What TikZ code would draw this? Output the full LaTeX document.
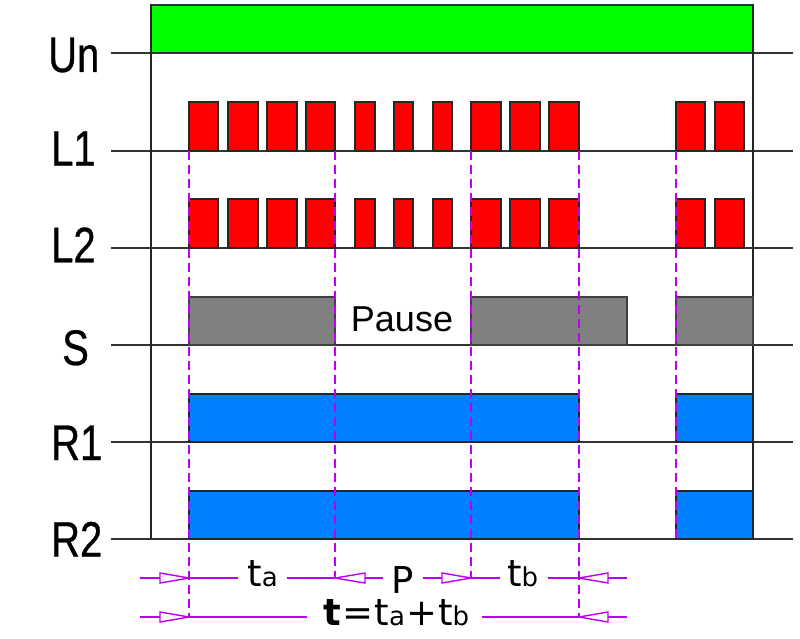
\documentclass[tikz,border=0pt]{standalone}
\usepackage{fontspec}
\setmainfont{Liberation Sans}
\newfontfamily\condfont[FakeStretch=0.8,FakeBold=0.6]{Liberation Sans}
\newfontfamily\dimfont{DejaVu Sans}
\usetikzlibrary{arrows.meta}
\definecolor{ungreen}{RGB}{0,255,0}
\definecolor{lred}{RGB}{255,0,0}
\definecolor{sgray}{RGB}{128,128,128}
\definecolor{rblue}{RGB}{0,128,255}
\definecolor{dimc}{RGB}{190,0,240}
\begin{document}
\begin{tikzpicture}[x=1pt,y=-1pt,
  axisline/.style={draw=black!80,line width=1.6pt},
  frameline/.style={draw=black!85,line width=1.4pt},
  pulsebox/.style={draw=black!85,line width=1.4pt,fill=lred},
  grnbox/.style={draw=black!80,line width=1.4pt,fill=ungreen},
  graybox/.style={draw=black!75,line width=1.4pt,fill=sgray},
  bluebox/.style={draw=black!85,line width=1.4pt,fill=rblue},
  dashline/.style={draw=dimc,line width=1.5pt,dash pattern=on 9pt off 5pt},
  dimline/.style={draw=dimc,line width=1.4pt},
  dimtri/.style={draw=dimc,line width=1.4pt,fill=white},
  rowlabel/.style={inner sep=0pt,anchor=base west,font=\condfont\fontsize{50}{50}\selectfont},
  dimtext/.style={inner sep=0pt,anchor=base,font=\dimfont\fontsize{37}{37}\selectfont},
]
\useasboundingbox (0,0) rectangle (800,639);
\fill[white] (0,0) rectangle (800,639);

% row base lines
\foreach \y in {53,151,248,345,442,539}
  \draw[axisline] (111,\y) -- (793,\y);

% Un
\filldraw[grnbox] (151,5) rectangle (753,53);
\draw[frameline] (151,5) -- (151,539);
\draw[frameline] (753,5) -- (753,539);

% L1, L2 pulses
\foreach \a/\b in {189/218,228/258,267/297,306/335,355/375,394/413,433/452,471/501,510/540,549/579,676/705,715/744}{
  \filldraw[pulsebox] (\a,102) rectangle (\b,151);
  \filldraw[pulsebox] (\a,199) rectangle (\b,248);
}

% S
\filldraw[graybox] (189,297) rectangle (335,345);
\filldraw[graybox] (471,297) rectangle (627,345);
\filldraw[graybox] (676,297) rectangle (753,345);
\node[inner sep=0pt,anchor=base,font=\fontsize{36}{36}\selectfont] (pause) at (402,331.7) {Pause};

% R1, R2
\filldraw[bluebox] (189,394) rectangle (579,442);
\filldraw[bluebox] (676,394) rectangle (753,442);
\filldraw[bluebox] (189,491) rectangle (579,539);
\filldraw[bluebox] (676,491) rectangle (753,539);

% labels
\node[rowlabel] (un) at (48,72) {Un};
\node[rowlabel] (l1) at (51,165.7) {L1};
\node[rowlabel] (l2) at (51,262.3) {L2};
\node[rowlabel] (s) at (62,365) {S};
\node[rowlabel] (r1) at (51,460) {R1};
\node[rowlabel] (r2) at (51,556.7) {R2};

% dashed markers
\draw[dashline] (189,151) -- (189,617);
\draw[dashline] (335,151) -- (335,578);
\draw[dashline] (471,151) -- (471,578);
\draw[dashline] (579,151) -- (579,617);
\draw[dashline] (676,151) -- (676,539);

% dimension row 1
\draw[dimline] (140,578) -- (238,578);
\draw[dimline] (286.7,578) -- (383,578);
\draw[dimline] (423,578) -- (500,578);
\draw[dimline] (548,578) -- (627,578);
\filldraw[dimtri] (160,573) -- (189,578) -- (160,583) -- cycle;
\filldraw[dimtri] (365,573) -- (335,578) -- (365,583) -- cycle;
\filldraw[dimtri] (442,573) -- (471,578) -- (442,583) -- cycle;
\filldraw[dimtri] (608,573) -- (579,578) -- (608,583) -- cycle;
\node[dimtext] (ta) at (262.5,586.7) {t{\fontsize{26}{26}\selectfont a}};
\node[inner sep=0pt,anchor=base,font=\dimfont\fontsize{37}{37}\selectfont] (p) at (403,593.3) {P};
\node[dimtext] (tb) at (522.5,586.7) {t{\fontsize{26}{26}\selectfont b}};

% dimension row 2
\draw[dimline] (140,617) -- (306.7,617);
\draw[dimline] (481.7,617) -- (627,617);
\filldraw[dimtri] (160,612) -- (189,617) -- (160,622) -- cycle;
\filldraw[dimtri] (608,612) -- (579,617) -- (608,622) -- cycle;
\node[dimtext] (tsum) at (396.5,625) {\textbf{t}\hspace{1pt}=\hspace{1pt}t{\fontsize{26}{26}\selectfont a}\hspace{1pt}+\hspace{1pt}t{\fontsize{26}{26}\selectfont b}};
\end{tikzpicture}
\end{document}
